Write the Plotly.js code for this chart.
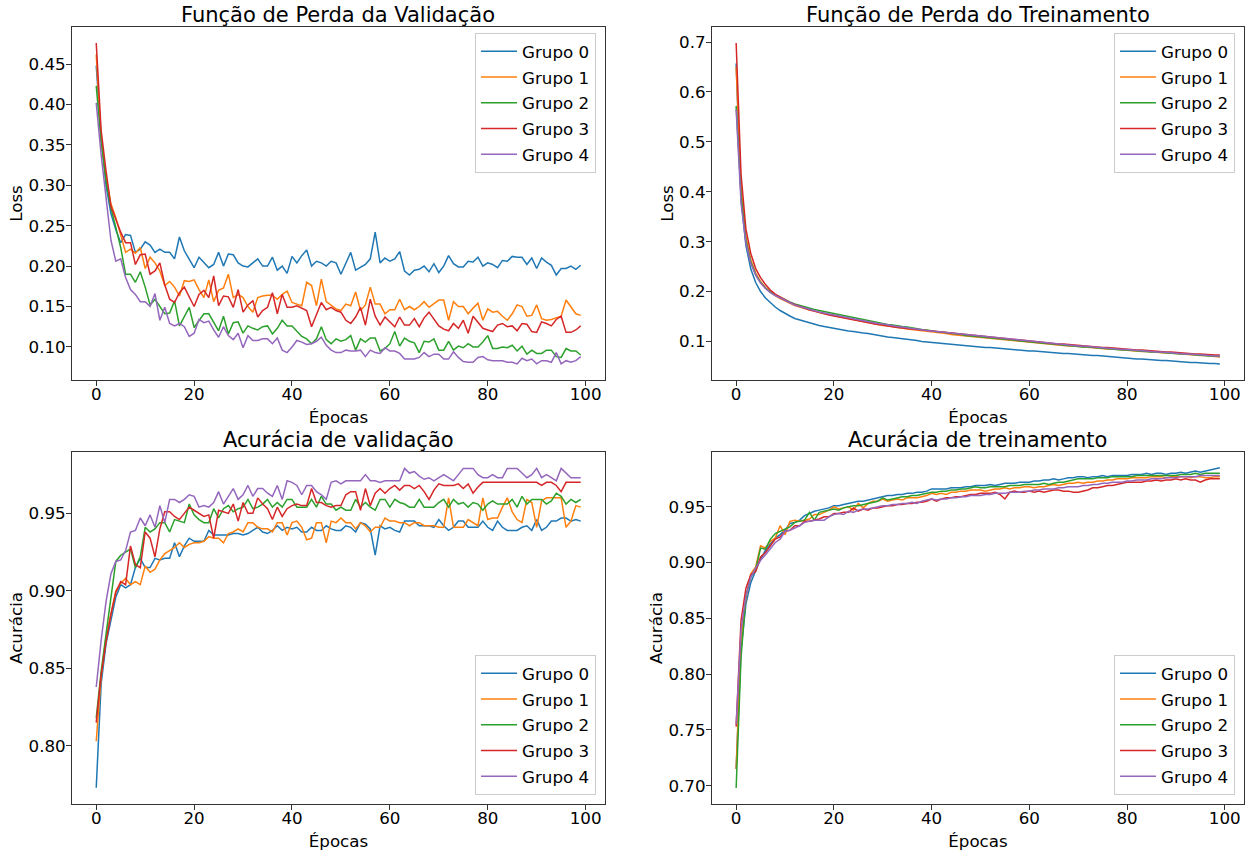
<!DOCTYPE html>
<html>
<head>
<meta charset="utf-8">
<script src="https://cdn.plot.ly/plotly-3.0.1.min.js"></script>
<style>html,body{margin:0;padding:0;background:#fff;}#chart{width:1259px;height:856px;}</style>
</head>
<body>
<div id="chart"></div>
<script>
const epochs = Array.from({length: 100}, (_, i) => i);
const groupNames = ["Grupo 0", "Grupo 1", "Grupo 2", "Grupo 3", "Grupo 4"];
const colors = ["#1f77b4", "#ff7f0e", "#2ca02c", "#d62728", "#9467bd"];
const subplotTitles = ["Função de Perda da Validação", "Função de Perda do Treinamento", "Acurácia de validação", "Acurácia de treinamento"];
const xLabel = "Épocas";
const yLabels = ["Loss", "Loss", "Acurácia", "Acurácia"];

// Validation loss
const valLoss0 = [0.448,0.360,0.300,0.265,0.245,0.229,0.239,0.238,0.217,0.221,
0.230,0.226,0.217,0.221,0.217,0.217,0.209,0.236,0.219,0.209,
0.198,0.211,0.204,0.198,0.202,0.217,0.200,0.215,0.214,0.204,
0.200,0.199,0.204,0.209,0.200,0.200,0.211,0.195,0.200,0.191,
0.212,0.204,0.213,0.220,0.200,0.206,0.204,0.200,0.206,0.204,
0.190,0.204,0.217,0.195,0.199,0.202,0.209,0.242,0.204,0.210,
0.206,0.209,0.218,0.194,0.189,0.195,0.196,0.200,0.193,0.203,
0.192,0.200,0.213,0.203,0.199,0.199,0.206,0.205,0.211,0.200,
0.204,0.202,0.198,0.207,0.206,0.212,0.211,0.211,0.202,0.210,
0.197,0.210,0.205,0.201,0.189,0.197,0.197,0.200,0.196,0.201];
const valLoss1 = [0.462,0.355,0.310,0.277,0.260,0.240,0.217,0.221,0.216,0.223,
0.197,0.211,0.204,0.194,0.176,0.181,0.174,0.163,0.182,0.181,
0.183,0.171,0.161,0.183,0.156,0.170,0.173,0.190,0.161,0.165,
0.161,0.150,0.143,0.161,0.163,0.164,0.164,0.159,0.165,0.169,
0.155,0.153,0.151,0.180,0.176,0.151,0.184,0.156,0.152,0.147,
0.145,0.153,0.151,0.168,0.145,0.152,0.174,0.153,0.153,0.141,
0.146,0.146,0.159,0.146,0.150,0.146,0.150,0.156,0.149,0.154,
0.158,0.158,0.133,0.156,0.150,0.150,0.141,0.148,0.154,0.133,
0.147,0.143,0.144,0.138,0.133,0.141,0.152,0.150,0.138,0.139,
0.152,0.135,0.133,0.134,0.136,0.138,0.158,0.149,0.141,0.139];
const valLoss2 = [0.423,0.355,0.305,0.272,0.248,0.223,0.190,0.190,0.180,0.193,
0.174,0.152,0.159,0.150,0.141,0.142,0.157,0.126,0.138,0.149,
0.124,0.133,0.141,0.141,0.131,0.120,0.138,0.116,0.130,0.131,
0.117,0.126,0.123,0.121,0.125,0.126,0.116,0.123,0.133,0.126,
0.126,0.119,0.113,0.110,0.104,0.110,0.125,0.109,0.104,0.110,
0.107,0.109,0.114,0.096,0.110,0.106,0.111,0.111,0.095,0.098,
0.104,0.119,0.101,0.111,0.107,0.105,0.093,0.107,0.106,0.110,
0.096,0.096,0.107,0.096,0.101,0.099,0.104,0.100,0.100,0.106,
0.114,0.098,0.098,0.100,0.099,0.102,0.095,0.101,0.091,0.096,
0.092,0.092,0.096,0.096,0.088,0.087,0.098,0.095,0.095,0.090];
const valLoss3 = [0.476,0.368,0.318,0.274,0.258,0.242,0.229,0.229,0.202,0.214,
0.215,0.190,0.194,0.204,0.177,0.159,0.155,0.167,0.174,0.161,
0.150,0.165,0.170,0.161,0.188,0.151,0.163,0.162,0.149,0.171,
0.143,0.152,0.157,0.137,0.145,0.149,0.167,0.141,0.165,0.149,
0.149,0.151,0.148,0.145,0.125,0.141,0.155,0.146,0.149,0.145,
0.143,0.133,0.129,0.137,0.149,0.127,0.159,0.138,0.127,0.137,
0.131,0.125,0.137,0.127,0.127,0.135,0.125,0.136,0.143,0.134,
0.126,0.122,0.120,0.129,0.123,0.133,0.117,0.138,0.131,0.123,
0.121,0.119,0.127,0.129,0.125,0.126,0.120,0.129,0.128,0.119,
0.118,0.131,0.129,0.126,0.134,0.138,0.118,0.118,0.121,0.126];
const valLoss4 = [0.402,0.338,0.285,0.232,0.206,0.209,0.186,0.171,0.165,0.156,
0.156,0.150,0.166,0.133,0.149,0.129,0.126,0.129,0.125,0.113,
0.117,0.134,0.130,0.132,0.121,0.112,0.125,0.114,0.109,0.117,
0.099,0.114,0.108,0.108,0.110,0.110,0.104,0.111,0.096,0.093,
0.100,0.108,0.106,0.103,0.104,0.107,0.112,0.102,0.096,0.093,
0.093,0.096,0.095,0.095,0.096,0.088,0.096,0.093,0.092,0.099,
0.095,0.095,0.092,0.085,0.085,0.085,0.087,0.093,0.088,0.091,
0.091,0.085,0.085,0.094,0.087,0.082,0.081,0.081,0.087,0.088,
0.084,0.083,0.083,0.083,0.081,0.081,0.079,0.086,0.083,0.085,
0.079,0.083,0.083,0.081,0.093,0.079,0.083,0.081,0.083,0.088];

// Training loss
const trainLoss0 = [0.657,0.385,0.292,0.245,0.218,0.200,0.187,0.177,0.169,0.162,
0.156,0.151,0.146,0.143,0.140,0.137,0.135,0.132,0.130,0.128,
0.126,0.125,0.123,0.121,0.120,0.118,0.117,0.116,0.114,0.112,
0.110,0.109,0.108,0.107,0.106,0.104,0.103,0.102,0.100,0.099,
0.098,0.097,0.096,0.096,0.095,0.094,0.093,0.092,0.091,0.090,
0.089,0.088,0.088,0.087,0.086,0.085,0.085,0.084,0.083,0.082,
0.081,0.081,0.080,0.079,0.078,0.078,0.077,0.076,0.076,0.075,
0.074,0.074,0.073,0.072,0.072,0.071,0.070,0.070,0.069,0.068,
0.066,0.066,0.065,0.065,0.064,0.063,0.063,0.062,0.062,0.061,
0.060,0.060,0.059,0.058,0.058,0.057,0.057,0.056,0.056,0.055];
const trainLoss1 = [0.650,0.410,0.310,0.263,0.237,0.220,0.208,0.199,0.192,0.186,
0.181,0.176,0.172,0.169,0.166,0.163,0.160,0.158,0.156,0.154,
0.152,0.150,0.148,0.146,0.143,0.141,0.140,0.138,0.136,0.134,
0.132,0.131,0.130,0.129,0.127,0.125,0.124,0.123,0.122,0.120,
0.119,0.118,0.117,0.116,0.114,0.113,0.112,0.111,0.110,0.109,
0.108,0.107,0.106,0.105,0.104,0.103,0.102,0.101,0.100,0.099,
0.098,0.097,0.096,0.096,0.095,0.094,0.093,0.092,0.091,0.091,
0.090,0.089,0.088,0.088,0.087,0.086,0.085,0.085,0.084,0.083,
0.082,0.082,0.081,0.080,0.080,0.079,0.078,0.078,0.077,0.077,
0.076,0.075,0.075,0.074,0.073,0.072,0.072,0.071,0.070,0.069];
const trainLoss2 = [0.572,0.395,0.302,0.259,0.234,0.218,0.207,0.199,0.193,0.188,
0.183,0.179,0.175,0.172,0.169,0.167,0.164,0.162,0.160,0.157,
0.155,0.153,0.151,0.149,0.147,0.145,0.143,0.141,0.139,0.138,
0.136,0.134,0.133,0.131,0.130,0.129,0.127,0.126,0.124,0.123,
0.121,0.120,0.119,0.118,0.116,0.115,0.114,0.112,0.111,0.110,
0.109,0.108,0.107,0.106,0.105,0.104,0.103,0.102,0.101,0.100,
0.099,0.098,0.097,0.096,0.095,0.095,0.094,0.093,0.092,0.091,
0.090,0.089,0.089,0.088,0.087,0.086,0.086,0.085,0.084,0.083,
0.083,0.082,0.081,0.081,0.080,0.079,0.079,0.078,0.077,0.077,
0.076,0.075,0.075,0.074,0.073,0.073,0.072,0.071,0.071,0.070];
const trainLoss3 = [0.698,0.435,0.325,0.276,0.246,0.228,0.214,0.203,0.195,0.189,
0.183,0.178,0.174,0.170,0.167,0.163,0.161,0.158,0.156,0.153,
0.151,0.149,0.147,0.145,0.143,0.141,0.139,0.138,0.136,0.134,
0.133,0.131,0.130,0.128,0.127,0.126,0.124,0.123,0.122,0.121,
0.120,0.119,0.118,0.118,0.116,0.115,0.114,0.113,0.112,0.111,
0.110,0.109,0.108,0.107,0.106,0.105,0.104,0.103,0.102,0.101,
0.100,0.099,0.099,0.098,0.097,0.096,0.095,0.095,0.094,0.093,
0.092,0.091,0.091,0.090,0.089,0.088,0.088,0.087,0.086,0.086,
0.085,0.084,0.083,0.083,0.082,0.081,0.081,0.080,0.079,0.079,
0.078,0.077,0.077,0.076,0.075,0.075,0.074,0.074,0.073,0.073];
const trainLoss4 = [0.565,0.378,0.297,0.256,0.233,0.217,0.206,0.198,0.192,0.187,
0.182,0.177,0.173,0.170,0.167,0.164,0.161,0.159,0.157,0.155,
0.153,0.151,0.149,0.147,0.145,0.143,0.141,0.140,0.138,0.136,
0.135,0.133,0.132,0.130,0.129,0.127,0.126,0.125,0.123,0.122,
0.121,0.120,0.119,0.117,0.116,0.115,0.114,0.113,0.112,0.111,
0.110,0.109,0.108,0.107,0.106,0.105,0.104,0.103,0.102,0.101,
0.100,0.099,0.098,0.097,0.097,0.096,0.095,0.094,0.093,0.092,
0.091,0.091,0.090,0.089,0.088,0.087,0.087,0.086,0.085,0.084,
0.084,0.083,0.082,0.082,0.081,0.080,0.079,0.079,0.078,0.077,
0.077,0.076,0.075,0.075,0.074,0.073,0.073,0.072,0.071,0.071];

// Validation accuracy
const valAcc0 = [0.773,0.840,0.866,0.882,0.896,0.904,0.902,0.904,0.915,0.921,
0.915,0.915,0.921,0.920,0.921,0.921,0.931,0.922,0.929,0.934,
0.932,0.932,0.932,0.939,0.936,0.936,0.936,0.936,0.937,0.937,
0.936,0.937,0.939,0.941,0.938,0.937,0.939,0.942,0.939,0.941,
0.940,0.941,0.938,0.938,0.941,0.939,0.939,0.942,0.940,0.939,
0.939,0.942,0.941,0.938,0.944,0.943,0.940,0.923,0.942,0.940,
0.941,0.939,0.938,0.945,0.945,0.945,0.942,0.942,0.942,0.941,
0.946,0.942,0.939,0.941,0.945,0.945,0.941,0.941,0.941,0.945,
0.941,0.939,0.945,0.941,0.939,0.939,0.939,0.941,0.942,0.939,
0.946,0.939,0.941,0.945,0.945,0.947,0.947,0.945,0.946,0.945];
const valAcc1 = [0.803,0.845,0.870,0.886,0.900,0.905,0.908,0.904,0.906,0.904,
0.916,0.912,0.914,0.920,0.924,0.926,0.928,0.931,0.928,0.930,
0.931,0.931,0.932,0.935,0.934,0.934,0.931,0.937,0.938,0.940,
0.938,0.944,0.944,0.941,0.940,0.940,0.938,0.944,0.944,0.936,
0.944,0.945,0.941,0.933,0.934,0.944,0.944,0.931,0.945,0.944,
0.947,0.944,0.944,0.940,0.944,0.942,0.938,0.941,0.941,0.947,
0.945,0.945,0.944,0.944,0.942,0.944,0.944,0.942,0.942,0.942,
0.941,0.941,0.960,0.941,0.941,0.941,0.946,0.944,0.942,0.960,
0.946,0.947,0.947,0.954,0.960,0.951,0.946,0.944,0.959,0.957,
0.941,0.958,0.960,0.960,0.960,0.960,0.941,0.945,0.955,0.954];
const valAcc2 = [0.818,0.848,0.872,0.897,0.919,0.923,0.925,0.927,0.915,0.922,
0.941,0.938,0.940,0.944,0.944,0.938,0.946,0.945,0.944,0.956,
0.949,0.946,0.944,0.944,0.953,0.947,0.953,0.955,0.951,0.953,
0.954,0.959,0.953,0.954,0.956,0.959,0.954,0.957,0.954,0.959,
0.959,0.954,0.954,0.954,0.959,0.954,0.961,0.956,0.956,0.952,
0.954,0.952,0.952,0.959,0.954,0.957,0.954,0.952,0.959,0.959,
0.954,0.959,0.957,0.956,0.954,0.954,0.959,0.954,0.954,0.954,
0.957,0.959,0.954,0.959,0.956,0.957,0.954,0.957,0.956,0.952,
0.956,0.958,0.956,0.956,0.956,0.959,0.954,0.961,0.956,0.959,
0.959,0.959,0.956,0.958,0.963,0.961,0.956,0.959,0.957,0.959];
const valAcc3 = [0.815,0.846,0.867,0.885,0.899,0.906,0.904,0.929,0.917,0.915,
0.938,0.934,0.922,0.940,0.951,0.951,0.948,0.946,0.950,0.954,
0.952,0.950,0.948,0.949,0.934,0.952,0.951,0.950,0.956,0.945,
0.957,0.950,0.950,0.960,0.956,0.953,0.946,0.954,0.948,0.953,
0.955,0.956,0.955,0.955,0.966,0.957,0.957,0.955,0.954,0.955,
0.955,0.962,0.964,0.964,0.952,0.966,0.955,0.963,0.966,0.963,
0.966,0.968,0.965,0.968,0.968,0.966,0.968,0.964,0.959,0.965,
0.969,0.968,0.968,0.968,0.969,0.966,0.969,0.963,0.967,0.970,
0.970,0.970,0.970,0.970,0.970,0.970,0.970,0.970,0.970,0.970,
0.970,0.968,0.970,0.970,0.968,0.964,0.970,0.970,0.970,0.970];
const valAcc4 = [0.838,0.868,0.893,0.911,0.919,0.920,0.926,0.938,0.939,0.947,
0.942,0.949,0.941,0.955,0.944,0.959,0.959,0.957,0.959,0.962,
0.961,0.954,0.955,0.954,0.957,0.964,0.956,0.961,0.966,0.959,
0.962,0.968,0.961,0.966,0.966,0.963,0.961,0.968,0.959,0.971,
0.970,0.968,0.962,0.968,0.968,0.964,0.962,0.959,0.970,0.971,
0.969,0.971,0.971,0.971,0.971,0.975,0.971,0.971,0.970,0.971,
0.971,0.971,0.971,0.979,0.976,0.977,0.974,0.972,0.973,0.971,
0.973,0.975,0.973,0.971,0.975,0.979,0.979,0.979,0.975,0.973,
0.973,0.975,0.973,0.973,0.979,0.979,0.979,0.976,0.973,0.975,
0.979,0.973,0.975,0.973,0.971,0.979,0.976,0.973,0.973,0.973];

// Training accuracy
const trainAcc0 = [0.715,0.822,0.863,0.882,0.893,0.903,0.911,0.917,0.922,0.925,
0.929,0.935,0.936,0.938,0.942,0.944,0.946,0.947,0.948,0.949,
0.951,0.951,0.952,0.953,0.954,0.955,0.955,0.956,0.957,0.958,
0.959,0.960,0.960,0.961,0.961,0.962,0.962,0.963,0.963,0.964,
0.966,0.966,0.966,0.966,0.967,0.967,0.967,0.968,0.968,0.969,
0.969,0.969,0.970,0.969,0.970,0.971,0.971,0.971,0.972,0.972,
0.972,0.973,0.973,0.974,0.974,0.975,0.974,0.975,0.976,0.976,
0.977,0.977,0.976,0.977,0.977,0.978,0.977,0.978,0.978,0.978,
0.978,0.979,0.979,0.979,0.980,0.979,0.980,0.980,0.979,0.980,
0.980,0.981,0.980,0.981,0.982,0.981,0.982,0.983,0.984,0.985];
const trainAcc1 = [0.715,0.830,0.868,0.890,0.896,0.915,0.913,0.919,0.922,0.933,
0.925,0.937,0.938,0.937,0.938,0.939,0.943,0.943,0.945,0.947,
0.950,0.948,0.949,0.950,0.947,0.953,0.949,0.953,0.955,0.955,
0.957,0.955,0.956,0.957,0.956,0.958,0.958,0.958,0.959,0.960,
0.962,0.961,0.962,0.961,0.963,0.963,0.964,0.964,0.965,0.965,
0.965,0.964,0.965,0.966,0.966,0.967,0.966,0.967,0.967,0.968,
0.968,0.967,0.968,0.968,0.969,0.970,0.969,0.970,0.971,0.971,
0.972,0.971,0.972,0.972,0.973,0.973,0.974,0.974,0.975,0.975,
0.975,0.976,0.976,0.976,0.976,0.977,0.977,0.977,0.976,0.977,
0.977,0.977,0.977,0.976,0.977,0.977,0.976,0.976,0.977,0.977];
const trainAcc2 = [0.698,0.815,0.870,0.887,0.894,0.913,0.912,0.921,0.926,0.928,
0.930,0.932,0.936,0.937,0.938,0.945,0.938,0.945,0.946,0.947,
0.948,0.947,0.949,0.950,0.951,0.951,0.952,0.953,0.954,0.955,
0.958,0.956,0.957,0.958,0.959,0.959,0.960,0.960,0.961,0.962,
0.963,0.963,0.964,0.964,0.965,0.965,0.966,0.966,0.967,0.968,
0.967,0.967,0.968,0.968,0.968,0.968,0.969,0.969,0.969,0.970,
0.970,0.970,0.970,0.971,0.970,0.971,0.972,0.972,0.973,0.974,
0.975,0.975,0.975,0.975,0.976,0.976,0.976,0.977,0.977,0.977,
0.977,0.977,0.978,0.978,0.978,0.978,0.978,0.978,0.978,0.978,
0.978,0.979,0.979,0.979,0.980,0.979,0.980,0.980,0.980,0.980];
const trainAcc3 = [0.753,0.848,0.877,0.889,0.892,0.905,0.909,0.915,0.921,0.923,
0.928,0.929,0.933,0.933,0.937,0.937,0.938,0.939,0.941,0.941,
0.944,0.944,0.945,0.945,0.949,0.946,0.948,0.947,0.949,0.949,
0.950,0.951,0.951,0.952,0.952,0.953,0.953,0.954,0.954,0.955,
0.957,0.955,0.957,0.958,0.958,0.959,0.959,0.960,0.961,0.961,
0.962,0.962,0.962,0.963,0.961,0.957,0.963,0.964,0.963,0.963,
0.964,0.963,0.964,0.963,0.964,0.965,0.965,0.964,0.964,0.963,
0.963,0.964,0.965,0.967,0.967,0.968,0.969,0.969,0.970,0.971,
0.972,0.972,0.972,0.972,0.973,0.973,0.974,0.973,0.974,0.974,
0.975,0.974,0.975,0.974,0.974,0.972,0.974,0.975,0.975,0.975];
const trainAcc4 = [0.755,0.840,0.870,0.887,0.895,0.902,0.907,0.912,0.918,0.921,
0.928,0.929,0.931,0.933,0.936,0.937,0.938,0.938,0.938,0.941,
0.943,0.944,0.943,0.946,0.945,0.947,0.948,0.948,0.949,0.950,
0.951,0.951,0.952,0.952,0.953,0.953,0.954,0.953,0.955,0.956,
0.957,0.956,0.957,0.957,0.958,0.958,0.959,0.959,0.960,0.960,
0.960,0.961,0.961,0.962,0.962,0.962,0.963,0.963,0.963,0.964,
0.964,0.965,0.965,0.966,0.966,0.966,0.967,0.967,0.968,0.968,
0.968,0.969,0.969,0.970,0.970,0.971,0.971,0.972,0.972,0.972,
0.973,0.973,0.974,0.974,0.974,0.975,0.975,0.975,0.976,0.976,
0.976,0.977,0.977,0.977,0.977,0.978,0.978,0.978,0.978,0.978];

const panels = [
  {series: [valLoss0, valLoss1, valLoss2, valLoss3, valLoss4], xa: "x", ya: "y", legend: "legend"},
  {series: [trainLoss0, trainLoss1, trainLoss2, trainLoss3, trainLoss4], xa: "x2", ya: "y2", legend: "legend2"},
  {series: [valAcc0, valAcc1, valAcc2, valAcc3, valAcc4], xa: "x3", ya: "y3", legend: "legend3"},
  {series: [trainAcc0, trainAcc1, trainAcc2, trainAcc3, trainAcc4], xa: "x4", ya: "y4", legend: "legend4"}
];

const traces = [];
panels.forEach((p, pi) => {
  p.series.forEach((vals, gi) => {
    traces.push({
      type: "scatter", mode: "lines",
      x: epochs, y: vals,
      name: groupNames[gi],
      line: {color: colors[gi], width: 1.5},
      xaxis: p.xa, yaxis: p.ya,
      legend: p.legend,
      legendgroup: "p" + pi + "g" + gi,
      hoverinfo: "x+y+name"
    });
  });
});

const FONT = "DejaVu Sans, Liberation Sans, sans-serif";
const tickFont = {family: FONT, size: 16.7, color: "#000"};
const xDomL = [0.0572, 0.4805], xDomR = [0.5655, 0.9881];
const yDomT = [0.5561, 0.9685], yDomB = [0.0607, 0.4720];

function xAxis(domain, anchor) {
  return {
    domain: domain, anchor: anchor, range: [-4.95, 103.95],
    tickvals: [0, 20, 40, 60, 80, 100], ticks: "outside", ticklen: 5, tickwidth: 1, tickcolor: "#333",
    showline: true, linecolor: "#333", linewidth: 1, mirror: true,
    showgrid: false, zeroline: false, tickfont: tickFont, ticklabelstandoff: -6,
    title: {text: xLabel, font: {family: FONT, size: 16.7, color: "#000"}, standoff: 8}
  };
}
function yAxis(domain, anchor, range, dtick, fmt, label) {
  return {
    domain: domain, anchor: anchor, range: range, dtick: dtick, tick0: 0, tickformat: fmt,
    ticks: "outside", ticklen: 5, tickwidth: 1, tickcolor: "#333",
    showline: true, linecolor: "#333", linewidth: 1, mirror: true,
    showgrid: false, zeroline: false, tickfont: tickFont, ticklabelstandoff: -3,
    title: {text: label, font: {family: FONT, size: 16.7, color: "#000"}, standoff: 1}
  };
}

function legendCfg(x, y, yanchor) {
  return {
    x: x, y: y, xanchor: "right", yanchor: yanchor, xref: "paper", yref: "paper",
    bgcolor: "rgba(255,255,255,0.85)", bordercolor: "#cccccc", borderwidth: 1,
    font: {family: FONT, size: 16.7, color: "#000"}, tracegroupgap: 1, itemwidth: 36
  };
}

const titleAnn = (text, xd, yd) => ({
  text: text, xref: "paper", yref: "paper",
  x: (xd[0] + xd[1]) / 2, y: yd[1], xanchor: "center", yanchor: "bottom",
  yshift: -2, showarrow: false, font: {family: FONT, size: 21, color: "#000"}
});

const layout = {
  width: 1259, height: 856,
  margin: {l: 0, r: 0, t: 0, b: 0},
  paper_bgcolor: "#fff", plot_bgcolor: "#fff",
  font: {family: FONT, color: "#000"},
  xaxis: xAxis(xDomL, "y"),
  yaxis: yAxis(yDomT, "x", [0.0591, 0.4959], 0.05, ".2f", yLabels[0]),
  xaxis2: xAxis(xDomR, "y2"),
  yaxis2: yAxis(yDomT, "x2", [0.0228, 0.7302], 0.1, ".1f", yLabels[1]),
  xaxis3: xAxis(xDomL, "y3"),
  yaxis3: yAxis(yDomB, "x3", [0.7625, 0.9896], 0.05, ".2f", yLabels[2]),
  xaxis4: xAxis(xDomR, "y4"),
  yaxis4: yAxis(yDomB, "x4", [0.6836, 0.9991], 0.05, ".2f", yLabels[3]),
  legend: legendCfg(0.4734, 0.9615, "top"),
  legend2: legendCfg(0.9809, 0.9615, "top"),
  legend3: legendCfg(0.4734, 0.0713, "bottom"),
  legend4: legendCfg(0.9809, 0.0713, "bottom"),
  annotations: [
    titleAnn(subplotTitles[0], xDomL, yDomT),
    titleAnn(subplotTitles[1], xDomR, yDomT),
    titleAnn(subplotTitles[2], xDomL, yDomB),
    titleAnn(subplotTitles[3], xDomR, yDomB)
  ],
  showlegend: true
};

Plotly.newPlot("chart", traces, layout, {displayModeBar: false, staticPlot: true});
</script>
</body>
</html>
